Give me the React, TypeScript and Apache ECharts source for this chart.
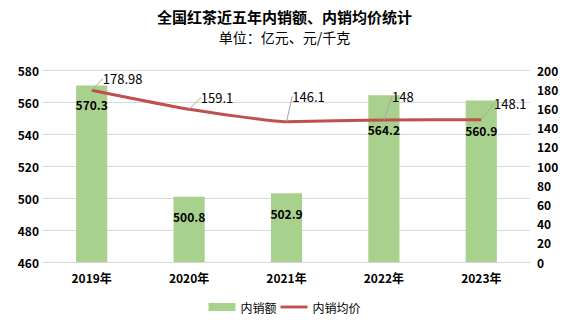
import React, { useEffect, useRef } from "react";
import * as echarts from "echarts";

const categories = ["2019年", "2020年", "2021年", "2022年", "2023年"];
const salesValues = [570.3, 500.8, 502.9, 564.2, 560.9];
const priceValues = [178.98, 159.1, 146.1, 148, 148.1];

// layout tweaks (not data)
const lineLabelShifts = [
  [31, 0],
  [28, 0],
  [22, -14],
  [19, -12],
  [29, -5],
];
const barLabelDistances = [13, 14, 14, 28, 24];

const FONT = '"Noto Sans CJK SC", "Microsoft YaHei", sans-serif';

export default function App() {
  const ref = useRef<HTMLDivElement>(null);
  useEffect(() => {
    document.body.style.margin = "0";
    if (!ref.current) return;
    const chart = echarts.init(ref.current, null, { renderer: "svg" });
    chart.setOption({
      animation: false,
      textStyle: { fontFamily: FONT },
      title: [
        {
          text: "全国红茶近五年内销额、内销均价统计",
          left: "center",
          top: 9,
          padding: 0,
          textStyle: { fontFamily: FONT, fontSize: 15, fontWeight: "bold", color: "#000" },
        },
        {
          text: "单位：亿元、元/千克",
          left: "center",
          top: 30,
          padding: 0,
          textStyle: { fontFamily: FONT, fontSize: 14, fontWeight: "normal", color: "#000" },
        },
      ],
      legend: {
        bottom: 11,
        left: "center",
        itemGap: 4,
        itemWidth: 27,
        itemHeight: 8,
        textStyle: { fontFamily: FONT, fontSize: 12, color: "#000" },
        data: [
          { name: "内销额", icon: "rect" },
          { name: "内销均价", icon: "path://M0,0H28V3H0Z", itemStyle: { color: "#c0504d", opacity: 1 } },
        ],
      },
      grid: { left: 43, right: 39, top: 70, bottom: 67 },
      xAxis: {
        type: "category",
        data: categories,
        axisTick: { show: false },
        axisLine: { lineStyle: { color: "#d9d9d9" } },
        axisLabel: { fontFamily: FONT, fontSize: 12, fontWeight: "bold", color: "#000", margin: 9 },
      },
      yAxis: [
        {
          type: "value",
          min: 460,
          max: 580,
          interval: 20,
          axisLine: { show: false },
          axisTick: { show: false },
          splitLine: { lineStyle: { color: "#d9d9d9" } },
          axisLabel: { fontFamily: FONT, fontSize: 12, fontWeight: "bold", color: "#000", margin: 4 },
        },
        {
          type: "value",
          min: 0,
          max: 200,
          interval: 20,
          axisLine: { show: false },
          axisTick: { show: false },
          splitLine: { show: false },
          axisLabel: { fontFamily: FONT, fontSize: 12, fontWeight: "bold", color: "#000", margin: 7 },
        },
      ],
      series: [
        {
          name: "内销额",
          type: "bar",
          data: salesValues.map((v, i) => ({
            value: v,
            label: { distance: barLabelDistances[i] },
          })),
          barWidth: "32%",
          itemStyle: { color: "#a9d18e" },
          label: {
            show: true,
            position: "insideTop",
            distance: 13,
            fontFamily: FONT,
            fontSize: 12,
            fontWeight: "bold",
            color: "#000",
          },
        },
        {
          name: "内销均价",
          type: "line",
          yAxisIndex: 1,
          data: priceValues,
          symbol: "circle",
          symbolSize: 0.01,
          showSymbol: true,
          smooth: 0.15,
          lineStyle: { color: "#c0504d", width: 3 },
          itemStyle: { color: "#c0504d" },
          label: {
            show: true,
            position: "top",
            distance: 5,
            fontFamily: FONT,
            fontSize: 13,
            color: "#000",
            opacity: 1,
          },
          labelLine: { show: true, lineStyle: { color: "#a6a6a6", width: 1 } },
          labelLayout: (p: any) => {
            const s = lineLabelShifts[p.dataIndex] || [0, 0];
            return { dx: s[0], dy: s[1] };
          },
        },
      ],
    });
    return () => chart.dispose();
  }, []);
  return <div ref={ref} style={{ width: 569, height: 329 }} />;
}
